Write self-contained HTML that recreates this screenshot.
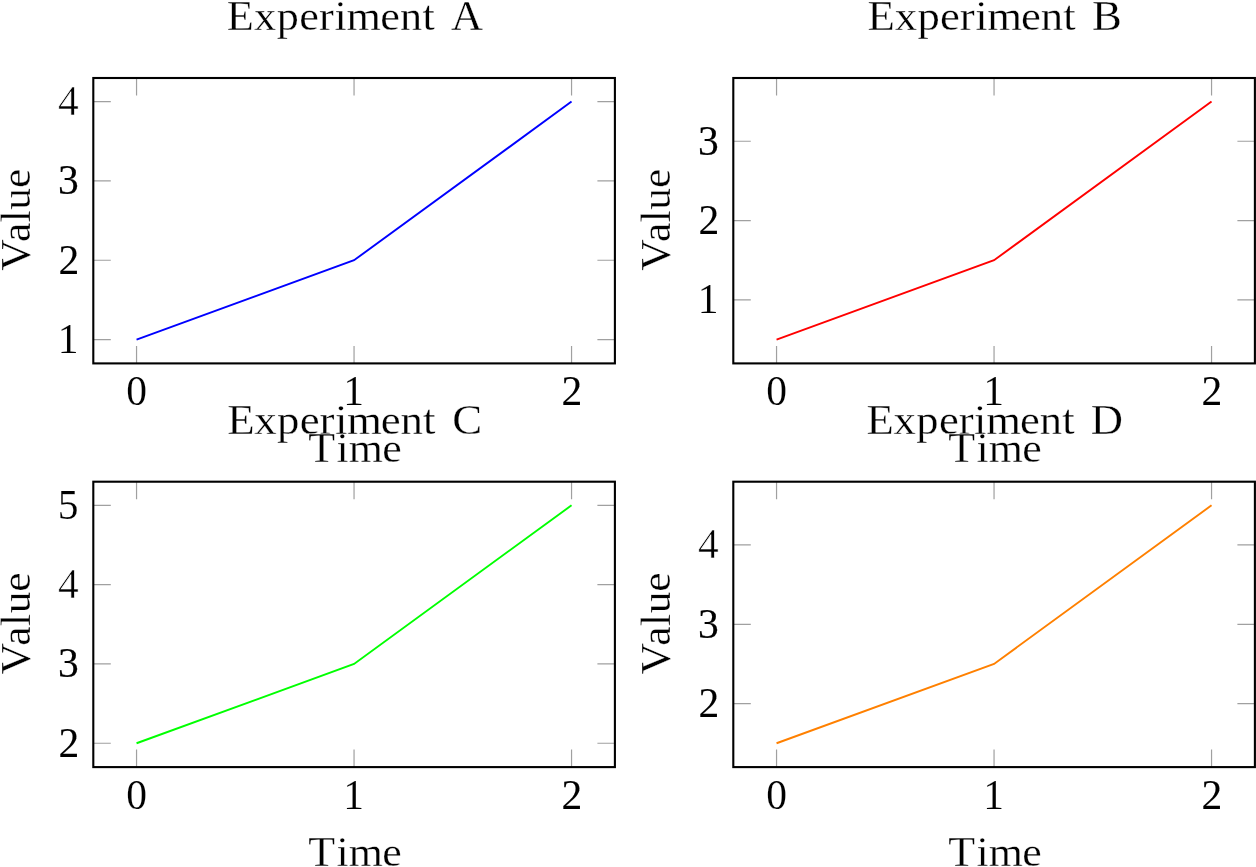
<!DOCTYPE html>
<html><head><meta charset="utf-8"><title>Experiments A-D</title><style>
html,body{margin:0;padding:0;background:#fff;width:1256px;height:867px;overflow:hidden}
svg{display:block;will-change:transform}
text{font-family:"Liberation Serif",serif;font-size:41.5px;fill:#000}
</style></head><body>
<svg width="1256" height="867" viewBox="0 0 1256 867">
<path d="M136.55 363.4V345.9M136.55 78V95.5M354.05 363.4V345.9M354.05 78V95.5M571.55 363.4V345.9M571.55 78V95.5M93.3 339.56H110.8M614.9 339.56H597.4M93.3 260.24H110.8M614.9 260.24H597.4M93.3 180.92H110.8M614.9 180.92H597.4M93.3 101.6H110.8M614.9 101.6H597.4" stroke="#a0a0a0" stroke-width="1.2" fill="none"/>
<polyline points="136.55,339.56 354.05,260.24 571.55,101.6" stroke="#0000ff" stroke-width="1.9" fill="none"/>
<rect x="93.3" y="78" width="521.6" height="285.4" stroke="#000" stroke-width="2.1" fill="none"/>
<path d="M776.55 363.4V345.9M776.55 78V95.5M994.05 363.4V345.9M994.05 78V95.5M1211.55 363.4V345.9M1211.55 78V95.5M733.3 299.9H750.8M1254.9 299.9H1237.4M733.3 220.58H750.8M1254.9 220.58H1237.4M733.3 141.26H750.8M1254.9 141.26H1237.4" stroke="#a0a0a0" stroke-width="1.2" fill="none"/>
<polyline points="776.55,339.56 994.05,260.24 1211.55,101.6" stroke="#ff0000" stroke-width="1.9" fill="none"/>
<rect x="733.3" y="78" width="521.6" height="285.4" stroke="#000" stroke-width="2.1" fill="none"/>
<path d="M136.55 767.1V749.6M136.55 481.7V499.2M354.05 767.1V749.6M354.05 481.7V499.2M571.55 767.1V749.6M571.55 481.7V499.2M93.3 743.26H110.8M614.9 743.26H597.4M93.3 663.94H110.8M614.9 663.94H597.4M93.3 584.62H110.8M614.9 584.62H597.4M93.3 505.3H110.8M614.9 505.3H597.4" stroke="#a0a0a0" stroke-width="1.2" fill="none"/>
<polyline points="136.55,743.26 354.05,663.94 571.55,505.3" stroke="#00ff00" stroke-width="1.9" fill="none"/>
<rect x="93.3" y="481.7" width="521.6" height="285.4" stroke="#000" stroke-width="2.1" fill="none"/>
<path d="M776.55 767.1V749.6M776.55 481.7V499.2M994.05 767.1V749.6M994.05 481.7V499.2M1211.55 767.1V749.6M1211.55 481.7V499.2M733.3 703.6H750.8M1254.9 703.6H1237.4M733.3 624.28H750.8M1254.9 624.28H1237.4M733.3 544.96H750.8M1254.9 544.96H1237.4" stroke="#a0a0a0" stroke-width="1.2" fill="none"/>
<polyline points="776.55,743.26 994.05,663.94 1211.55,505.3" stroke="#ff8000" stroke-width="1.9" fill="none"/>
<rect x="733.3" y="481.7" width="521.6" height="285.4" stroke="#000" stroke-width="2.1" fill="none"/>
<text transform="scale(1.0664 1)" x="212.69 238.09 259.46 280.69 299.18 313.58 324.96 356.57 375.07 396.15 407.68 422.86" y="29.9" stroke="#fff" stroke-width="0.28">Experiment A</text>
<text transform="scale(1.0775 1)" x="805.15 830.31 851.46 872.48 890.8 905.07 916.23 947.58 965.88 986.78 998.31 1013.54" y="29.9" stroke="#fff" stroke-width="0.28">Experiment B</text>
<text transform="scale(1.0804 1)" x="210.3 235.4 256.5 277.47 295.74 309.97 321.07 352.36 370.6 391.46 402.99 418.66" y="433.6" stroke="#fff" stroke-width="0.28">Experiment C</text>
<text transform="scale(1.0751 1)" x="805.93 831.14 852.34 873.41 891.76 906.06 917.27 948.67 967.02 987.96 999.49 1014.53" y="433.6" stroke="#fff" stroke-width="0.28">Experiment D</text>
<text x="126.15" y="405" stroke="#fff" stroke-width="0.1">0</text>
<text x="343.26" y="405" stroke="#fff" stroke-width="0.1">1</text>
<text x="561.39" y="405" stroke="#000" stroke-width="0.1">2</text>
<text x="57.81" y="352.91" stroke="#fff" stroke-width="0.1">1</text>
<text x="58.44" y="273.59" stroke="#000" stroke-width="0.1">2</text>
<text x="58.02" y="194.27" stroke="#000" stroke-width="0.2">3</text>
<text x="58.12" y="114.95" stroke="#fff" stroke-width="0.6">4</text>
<text transform="scale(1.0574 1)" x="291.57 318.2 329.76 361.58" y="461.9" stroke="#fff" stroke-width="0.28">Time</text>
<text transform="translate(29.5 0) rotate(-90) scale(1.0493 1)" x="-258.13 -230.6 -211.78 -199.8 -179.26" y="0" stroke="#fff" stroke-width="0.28">Value</text>
<text x="766.15" y="405" stroke="#fff" stroke-width="0.1">0</text>
<text x="983.26" y="405" stroke="#fff" stroke-width="0.1">1</text>
<text x="1201.39" y="405" stroke="#000" stroke-width="0.1">2</text>
<text x="697.81" y="313.25" stroke="#fff" stroke-width="0.1">1</text>
<text x="698.44" y="233.93" stroke="#000" stroke-width="0.1">2</text>
<text x="698.02" y="154.61" stroke="#000" stroke-width="0.2">3</text>
<text transform="scale(1.0574 1)" x="896.8 923.43 935 966.81" y="461.9" stroke="#fff" stroke-width="0.28">Time</text>
<text transform="translate(669.5 0) rotate(-90) scale(1.0493 1)" x="-258.13 -230.6 -211.78 -199.8 -179.26" y="0" stroke="#fff" stroke-width="0.28">Value</text>
<text x="126.15" y="808.7" stroke="#fff" stroke-width="0.1">0</text>
<text x="343.26" y="808.7" stroke="#fff" stroke-width="0.1">1</text>
<text x="561.39" y="808.7" stroke="#000" stroke-width="0.1">2</text>
<text x="58.44" y="756.61" stroke="#000" stroke-width="0.1">2</text>
<text x="58.02" y="677.29" stroke="#000" stroke-width="0.2">3</text>
<text x="58.12" y="597.97" stroke="#fff" stroke-width="0.6">4</text>
<text x="57.81" y="518.65" stroke="#fff" stroke-width="0.15">5</text>
<text transform="scale(1.0574 1)" x="291.57 318.2 329.76 361.58" y="865.6" stroke="#fff" stroke-width="0.28">Time</text>
<text transform="translate(29.5 0) rotate(-90) scale(1.0493 1)" x="-642.86 -615.33 -596.51 -584.53 -563.99" y="0" stroke="#fff" stroke-width="0.28">Value</text>
<text x="766.15" y="808.7" stroke="#fff" stroke-width="0.1">0</text>
<text x="983.26" y="808.7" stroke="#fff" stroke-width="0.1">1</text>
<text x="1201.39" y="808.7" stroke="#000" stroke-width="0.1">2</text>
<text x="698.44" y="716.95" stroke="#000" stroke-width="0.1">2</text>
<text x="698.02" y="637.63" stroke="#000" stroke-width="0.2">3</text>
<text x="698.12" y="558.31" stroke="#fff" stroke-width="0.6">4</text>
<text transform="scale(1.0574 1)" x="896.8 923.43 935 966.81" y="865.6" stroke="#fff" stroke-width="0.28">Time</text>
<text transform="translate(669.5 0) rotate(-90) scale(1.0493 1)" x="-642.86 -615.33 -596.51 -584.53 -563.99" y="0" stroke="#fff" stroke-width="0.28">Value</text>
</svg>
</body></html>
